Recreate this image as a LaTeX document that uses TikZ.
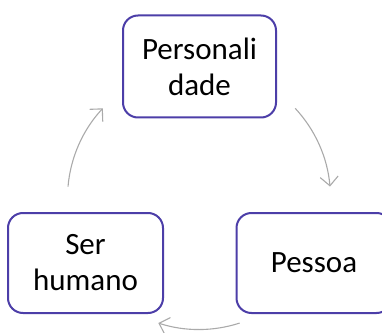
\documentclass[tikz,border=0pt]{standalone}
\usepackage{fontspec}
\setmainfont{Carlito}
\usetikzlibrary{arrows.meta}
\definecolor{boxblue}{RGB}{76,62,168}
\definecolor{arrowgray}{RGB}{170,170,170}
\begin{document}
\begin{tikzpicture}[x=1pt,y=1pt,
  box/.style={draw=boxblue, line width=2pt, rounded corners=15pt, fill=white,
    minimum width=153pt, minimum height=102pt, align=center, inner sep=0pt,
    font=\fontsize{31}{36}\selectfont},
  cyc/.style={draw=arrowgray, line width=1.1pt, -{Straight Barb[length=9pt,width=18pt]}}]
\useasboundingbox (0,0) rectangle (382,332);
\node[box] (pers) at (199.5,265.5) {Personali\\dade};
\node[box, minimum width=155pt, minimum height=100pt] (ser) at (85.5,69) {Ser\\humano};
\node[box, minimum width=155pt, minimum height=100pt] (pes) at (314,69) {Pessoa};
\coordinate (ctr) at (199,134);
\coordinate (a1) at ([shift={(43:131.5)}]ctr);
\coordinate (a2) at ([shift={(-72:131.5)}]ctr);
\coordinate (a3) at ([shift={(175:131.5)}]ctr);
\draw[cyc] (a1) arc[start angle=43, end angle=5, radius=131.5];
\draw[cyc] (a2) arc[start angle=-72, end angle=-108, radius=131.5];
\draw[cyc] (a3) arc[start angle=175, end angle=137, radius=131.5];
\end{tikzpicture}
\end{document}
